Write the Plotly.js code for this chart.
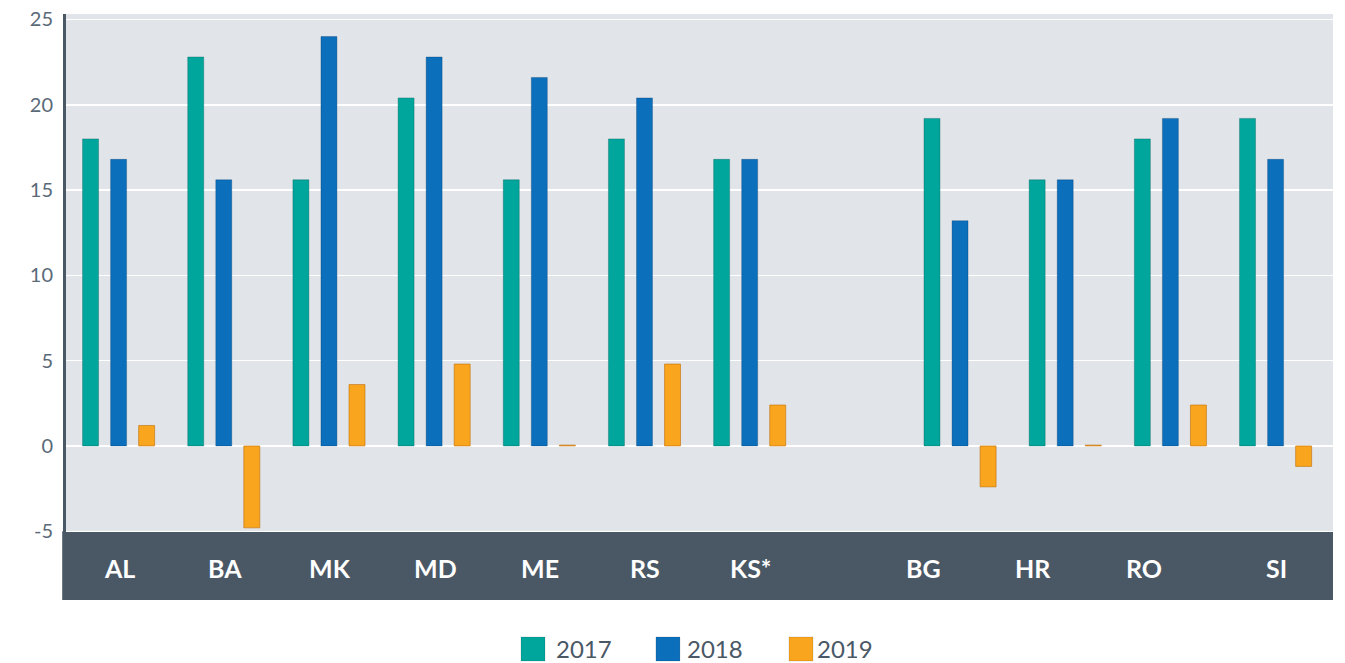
<!DOCTYPE html>
<html>
<head>
<meta charset="utf-8">
<script src="https://cdn.plot.ly/plotly-3.0.1.min.js"></script>
<style>
  html, body { margin: 0; padding: 0; background: #ffffff; }
  #chart { width: 1345px; height: 663px; }
</style>
</head>
<body>
<div id="chart"></div>
<script>
// Categorías (el hueco separa los dos grupos de países)
const paises = ['AL', 'BA', 'MK', 'MD', 'ME', 'RS', 'KS*', ' ', 'BG', 'HR', 'RO', 'SI'];
const anios = ['2017', '2018', '2019'];
const colores = ['#00a69c', '#0b6fbb', '#f9a51e'];

// Valores
const v2017 = [18.0, 22.8, 15.6, 20.4, 15.6, 18.0, 16.8, null, 19.2, 15.6, 18.0, 19.2];
const v2018 = [16.8, 15.6, 24.0, 22.8, 21.6, 20.4, 16.8, null, 13.2, 15.6, 19.2, 16.8];
const v2019 = [1.2, -4.8, 3.6, 4.8, 0.05, 4.8, 2.4, null, -2.4, 0.05, 2.4, -1.2];

const series = [v2017, v2018, v2019];
const bordes = ['rgba(0,90,85,0.35)', 'rgba(0,50,100,0.3)', 'rgba(190,110,10,0.6)'];

const data = series.map((vals, i) => ({
    type: 'bar',
    x: paises,
    y: vals,
    name: anios[i],
    marker: { color: colores[i], line: { color: bordes[i], width: 1 } },
    showlegend: false,
    hoverinfo: 'x+y+name'
}));

const yMin = -9.03;
const yMax = 25.32;

// Banda oscura con los nombres de los países
const shapes = [{
    type: 'rect', layer: 'between',
    xref: 'paper', x0: -0.003, x1: 1,
    yref: 'y', y0: yMin, y1: -5,
    fillcolor: '#4a5866', line: { width: 0 }
}];

// en el original las etiquetas de BG, HR y RO no están centradas en su grupo
const desplazamiento = { 'BG': -37, 'HR': -32, 'RO': -26 };

const annotations = paises.filter(p => p.trim() !== '').map(p => ({
    x: p, y: -7.15, xref: 'x', yref: 'y',
    xshift: desplazamiento[p] || 1,
    text: p, showarrow: false,
    font: { family: 'Lato, "Open Sans", sans-serif', size: 25, color: '#ffffff', weight: 'bold' }
}));

// Leyenda manual (cuadros grandes como en el original)
const legX = [0.3686, 0.4751, 0.5801];
const legTextX = [0.3855, 0.4888, 0.5914];
anios.forEach((a, i) => {
    shapes.push({
        type: 'rect', xref: 'paper', yref: 'paper',
        xsizemode: 'pixel', ysizemode: 'pixel',
        xanchor: legX[i], yanchor: -0.0836,
        x0: -12, x1: 12, y0: -12, y1: 12,
        fillcolor: colores[i], line: { color: 'rgba(0,0,0,0.12)', width: 1 }
    });
    annotations.push({
        xref: 'paper', yref: 'paper', x: legTextX[i], y: -0.0825,
        xanchor: 'left', yanchor: 'middle', showarrow: false,
        text: a,
        font: { family: 'Lato, "Open Sans", sans-serif', size: 24, color: '#4a5866' }
    });
});

const layout = {
    width: 1345,
    height: 663,
    margin: { l: 66, r: 12, t: 14, b: 63 },
    paper_bgcolor: '#ffffff',
    plot_bgcolor: '#e1e5e9',
    font: { family: 'Lato, "Open Sans", sans-serif', color: '#5a6a78' },
    barmode: 'group',
    bargap: 0.2,
    bargroupgap: 0.43,
    showlegend: false,
    xaxis: {
        type: 'category',
        categoryorder: 'array',
        categoryarray: paises,
        range: [-0.5, 11.546],
        showticklabels: false,
        showgrid: false,
        zeroline: false,
        ticks: ''
    },
    yaxis: {
        range: [yMin, yMax],
        tickvals: [-5, 0, 5, 10, 15, 20, 25],
        ticktext: ['-5', '0', '5', '10', '15', '20', '25'],
        tickfont: { size: 20, color: '#5a6a78' },
        showgrid: true,
        gridcolor: '#ffffff',
        gridwidth: 1.5,
        zeroline: true,
        zerolinecolor: '#ffffff',
        zerolinewidth: 2,
        showline: true,
        linecolor: '#4a5866',
        linewidth: 3,
        ticks: '',
        ticklabelstandoff: 6
    },
    shapes: shapes,
    annotations: annotations
};

Plotly.newPlot('chart', data, layout, { displayModeBar: false, staticPlot: true });
</script>
</body>
</html>
